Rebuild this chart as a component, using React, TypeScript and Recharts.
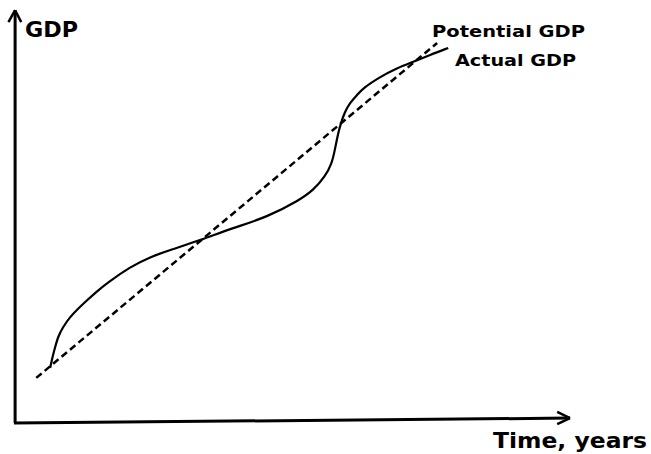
import { Line, LineChart, ReferenceLine, XAxis, YAxis } from "recharts";

// time (0-100) and GDP index
const actualYears = [
  6.5, 6.8, 7.4, 7.9, 8.8, 10.1, 11.3, 13.1, 14.9, 16.7, 20.9, 24.5, 28.1, 33.5,
  39.4, 45.5, 51.4, 53.8, 55.9, 57.2, 57.7, 58.3, 58.8, 59.5, 60.4, 61.7, 62.8,
  65.8, 68.9, 71.8, 74.8, 78.1
];
const actualGdp = [
  13.4, 15.4, 18.5, 21.0, 23.4, 25.9, 27.6, 29.9, 32.1, 34.1, 38.1, 40.5, 42.2,
  44.6, 47.6, 50.2, 54.4, 56.8, 60.0, 63.4, 66.6, 70.7, 73.2, 75.9, 78.1, 80.0,
  81.7, 84.4, 86.6, 88.1, 89.8, 91.5
];
const potentialYears = [4.0, 76.1];
const potentialGdp = [11.0, 92.7];

const actualData = actualYears.map((t, i) => ({ t, gdp: actualGdp[i] }));
const potentialData = potentialYears.map((t, i) => ({ t, gdp: potentialGdp[i] }));

const font = "'DejaVu Sans', Verdana, sans-serif";

export default function App() {
  return (
    <div style={{ position: "absolute", left: 0, top: 0, background: "#fff" }}>
      <LineChart
        width={651}
        height={454}
        margin={{ top: 9, right: 81, bottom: 31, left: 14 }}
      >
        <XAxis type="number" dataKey="t" domain={[0, 100]} hide />
        <YAxis type="number" dataKey="gdp" domain={[0, 101]} hide width={0} />

        {/* axes with arrow heads */}
        <ReferenceLine
          segment={[{ x: 0.2, y: 0 }, { x: 0.2, y: 100.7 }]}
          stroke="#000"
          strokeWidth={3}
          ifOverflow="visible"
        />
        <ReferenceLine
          segment={[{ x: -1.0, y: 97.8 }, { x: 0.2, y: 100.7 }]}
          stroke="#000"
          strokeWidth={2.5}
          ifOverflow="visible"
        />
        <ReferenceLine
          segment={[{ x: 1.3, y: 97.8 }, { x: 0.2, y: 100.7 }]}
          stroke="#000"
          strokeWidth={2.5}
          ifOverflow="visible"
        />
        <ReferenceLine
          segment={[{ x: 0, y: 0 }, { x: 100, y: 1.2 }]}
          stroke="#000"
          strokeWidth={3}
          ifOverflow="visible"
        />
        <ReferenceLine
          segment={[{ x: 97.7, y: 2.7 }, { x: 100, y: 1.2 }]}
          stroke="#000"
          strokeWidth={2.5}
          ifOverflow="visible"
        />
        <ReferenceLine
          segment={[{ x: 97.7, y: -0.3 }, { x: 100, y: 1.2 }]}
          stroke="#000"
          strokeWidth={2.5}
          ifOverflow="visible"
        />

        <Line
          data={potentialData}
          dataKey="gdp"
          type="linear"
          stroke="#000"
          strokeWidth={2.5}
          strokeDasharray="7 4"
          dot={false}
          isAnimationActive={false}
        />
        <Line
          data={actualData}
          dataKey="gdp"
          type="basis"
          stroke="#000"
          strokeWidth={2.2}
          dot={false}
          isAnimationActive={false}
        />

        <text x={25} y={37} fontFamily={font} fontWeight="bold" fontSize={22}
          textLength={53} lengthAdjust="spacingAndGlyphs">
          GDP
        </text>
        <text x={432} y={37} fontFamily={font} fontWeight="bold" fontSize={16.5}
          textLength={153} lengthAdjust="spacingAndGlyphs">
          Potential GDP
        </text>
        <text x={455} y={66} fontFamily={font} fontWeight="bold" fontSize={16.5}
          textLength={121} lengthAdjust="spacingAndGlyphs">
          Actual GDP
        </text>
        <text x={493} y={448} fontFamily={font} fontWeight="bold" fontSize={20.5}
          textLength={154} lengthAdjust="spacingAndGlyphs">
          Time, years
        </text>
      </LineChart>
    </div>
  );
}
